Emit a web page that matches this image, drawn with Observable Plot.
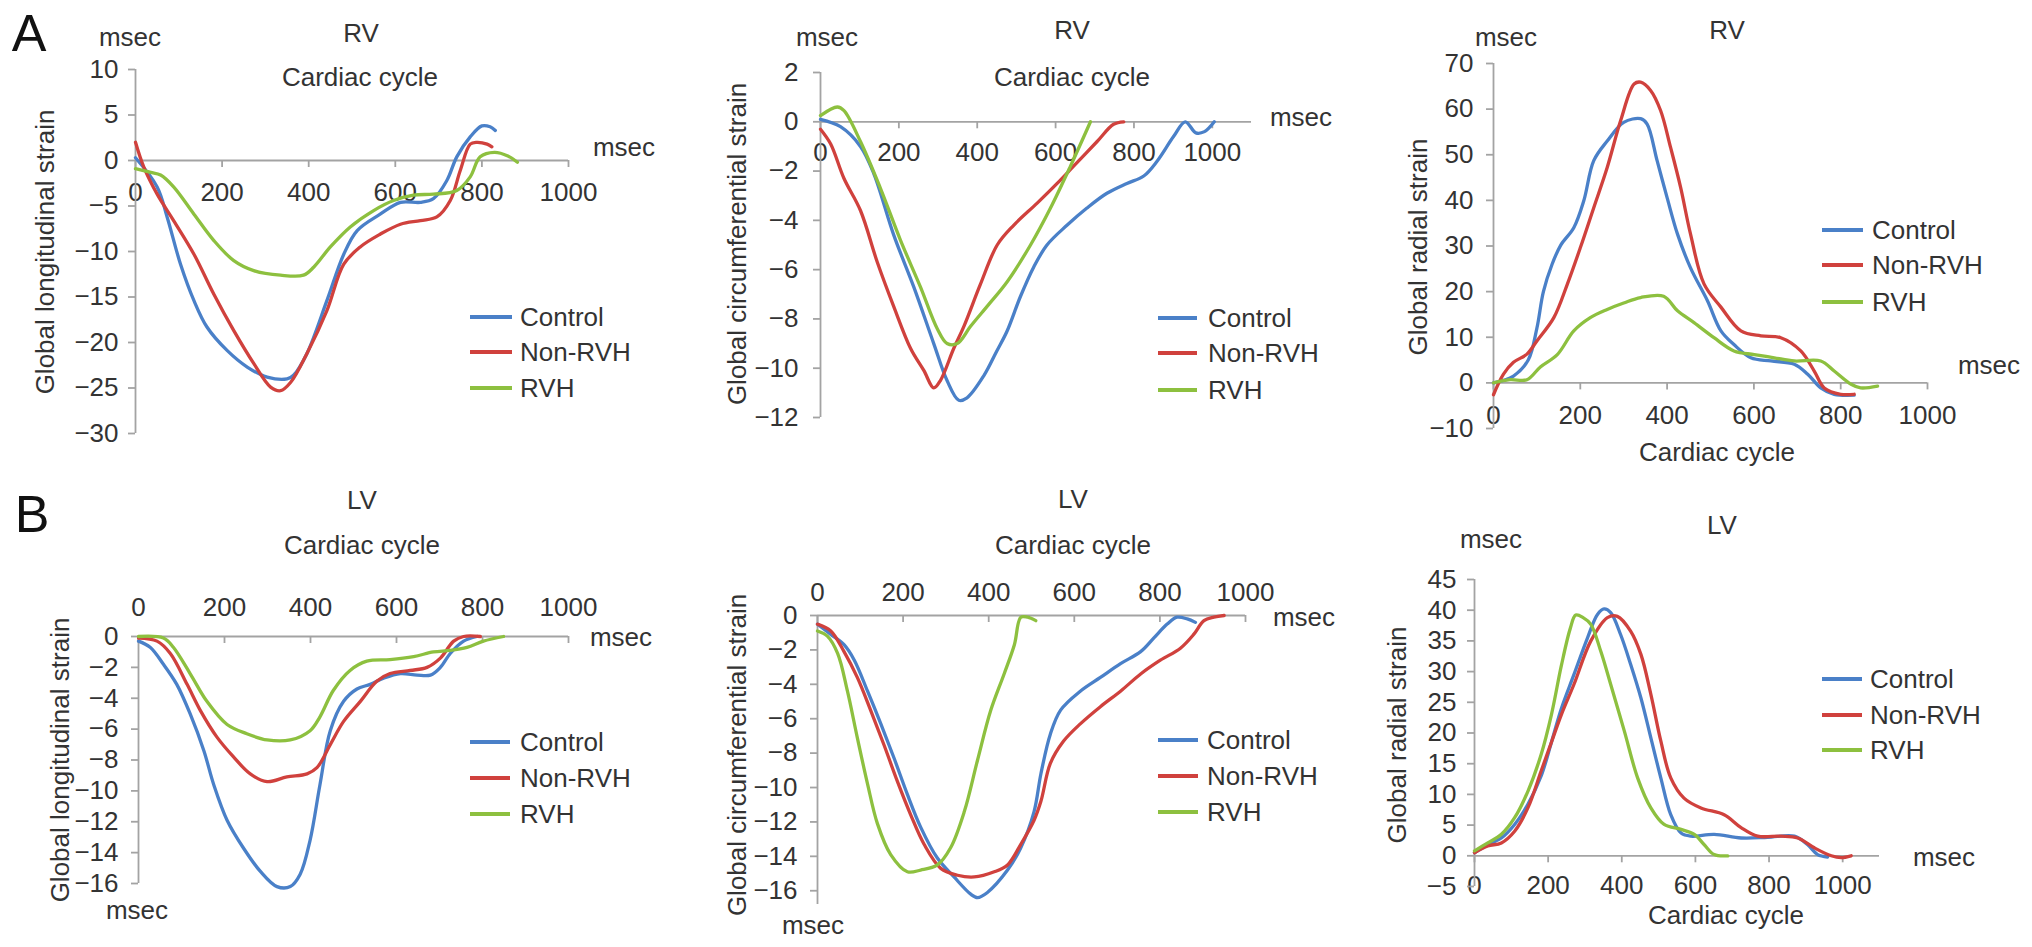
<!DOCTYPE html>
<html>
<head>
<meta charset="utf-8">
<script src="https://cdn.jsdelivr.net/npm/d3@7"></script>
<script src="https://cdn.jsdelivr.net/npm/@observablehq/plot@0.6"></script>
<style>
  body { margin: 0; background: #fff; font-family: "Liberation Sans", Arial, sans-serif; color: #333; }
  #fig { position: relative; width: 2032px; height: 947px; overflow: hidden; }
  #fig svg { position: absolute; overflow: visible; }
  .lbl { position: absolute; transform: translate(-50%, -50%); font-size: 26px; line-height: 1; white-space: nowrap; }
  .ytitle { transform: translate(-50%, -50%) rotate(-90deg); }
  .letter { font-size: 52px; color: #111; }
  .leg { position: absolute; font-size: 26px; line-height: 1; white-space: nowrap; }
</style>
</head>
<body>
<div id="fig"></div>
<script>
const seriesNames = ["Control", "Non-RVH", "RVH"];
const seriesColors = ["#4a80c8", "#d0413d", "#8dc03f"];

// A: RV, global longitudinal strain  [msec, strain]
const rvLongControl = [[0,0.3],[50,-2.9],[73,-6.2],[104,-11.4],[135,-15.4],[165,-18.3],[212,-20.9],[258,-22.7],[304,-23.8],[350,-24],[365,-23.6],[396,-21.2],[442,-15.4],[481,-10.3],[512,-7.7],[565,-5.9],[612,-4.6],[658,-4.6],[688,-4.2],[719,-2.2],[742,0.4],[773,2.6],[800,3.8],[819,3.7],[831,3.3]];
const rvLongNonRVH = [[0,2],[19,-0.7],[50,-3.7],[88,-6.6],[135,-10.3],[181,-14.7],[227,-18.7],[273,-22.3],[312,-24.9],[335,-25.3],[358,-24.4],[396,-21.2],[442,-16.5],[481,-11.4],[519,-9.5],[565,-8.1],[612,-7],[658,-6.6],[696,-6.2],[727,-4.4],[750,-1.1],[773,1.8],[788,2],[812,1.8],[823,1.5]];
const rvLongRVH = [[0,-0.9],[35,-1.3],[58,-1.6],[88,-2.9],[135,-5.9],[181,-8.8],[227,-11],[273,-12.1],[335,-12.6],[388,-12.6],[412,-11.7],[450,-9.5],[496,-7.3],[550,-5.5],[596,-4.4],[642,-3.8],[688,-3.7],[742,-3.3],[773,-1.8],[796,0.4],[829,0.9],[860,0.5],[882,-0.2]];

// A: RV, global circumferential strain
const rvCircControl = [[0,0.1],[51,-0.2],[102,-1],[136,-2.1],[187,-4.6],[238,-6.7],[289,-9],[323,-10.5],[353,-11.3],[374,-11.2],[417,-10.3],[450,-9.3],[476,-8.5],[510,-7.1],[544,-5.9],[578,-5],[629,-4.2],[680,-3.5],[731,-2.9],[782,-2.5],[825,-2.2],[859,-1.6],[901,-0.6],[931,0],[958,-0.45],[980,-0.4],[1005,0]];
const rvCircNonRVH = [[0,-0.3],[26,-0.9],[60,-2.3],[102,-3.6],[145,-5.7],[187,-7.5],[230,-9.2],[264,-10.1],[289,-10.8],[306,-10.5],[340,-9.2],[366,-8.3],[408,-6.6],[451,-5],[493,-4.2],[553,-3.3],[604,-2.5],[646,-1.8],[706,-0.8],[748,-0.1],[774,0]];
const rvCircRVH = [[0,0.25],[43,0.6],[60,0.45],[102,-0.8],[153,-2.7],[204,-4.8],[255,-6.7],[298,-8.4],[323,-9],[349,-9],[383,-8.3],[430,-7.4],[476,-6.5],[536,-5],[587,-3.5],[638,-1.8],[689,0]];

// A: RV, global radial strain
const rvRadControl = [[0,0],[46,1.5],[80,5],[100,12],[115,20],[135,26],[155,30.2],[185,34],[208,39.9],[231,48.7],[262,53],[300,57.1],[339,57.9],[354,56.7],[377,48.7],[400,40.6],[424,32.6],[454,25.2],[493,18],[524,11.4],[554,8.4],[593,5.5],[639,4.8],[693,4.1],[724,1.9],[754,-1.1],[785,-2.5],[831,-2.7]];
const rvRadNonRVH = [[0,-2.6],[23,1.9],[46,4.5],[77,6.3],[100,9.2],[139,14.3],[170,21.6],[200,29.6],[231,38.4],[262,47.2],[293,57.5],[324,65.5],[339,65.9],[362,64.1],[385,59.7],[408,51.6],[431,42.9],[454,32.6],[485,21.7],[524,16.6],[570,11.4],[616,10.3],[662,9.9],[708,7],[739,2.6],[762,-1.1],[800,-2.5],[831,-2.5]];
const rvRadRVH = [[0,0],[38,0.7],[77,0.7],[108,3.5],[147,6.2],[185,11.4],[223,14.3],[262,16.1],[300,17.5],[339,18.7],[392,19],[424,15.8],[462,13.2],[508,9.9],[554,7],[601,6.2],[647,5.5],[693,4.8],[754,4.8],[785,2.6],[824,-0.3],[846,-1.1],[885,-0.7]];

// B: LV, global longitudinal strain
const lvLongControl = [[0,-0.3],[27,-0.7],[58,-1.8],[89,-3.1],[120,-5],[152,-7.4],[175,-9.6],[206,-11.9],[244,-13.7],[283,-15.2],[322,-16.2],[353,-16.2],[376,-15.4],[399,-13.2],[422,-9.6],[446,-6.1],[477,-4.2],[508,-3.4],[539,-3.1],[570,-2.7],[609,-2.4],[648,-2.5],[679,-2.5],[702,-2],[725,-1.1],[756,-0.3],[787,0]];
const lvLongNonRVH = [[0,-0.1],[43,-0.3],[74,-1.1],[113,-3.1],[144,-4.8],[182,-6.5],[221,-7.8],[260,-8.9],[299,-9.4],[345,-9.1],[392,-8.9],[415,-8.5],[446,-7],[477,-5.5],[516,-4.2],[554,-2.9],[585,-2.4],[632,-2.2],[671,-2],[702,-1.4],[733,-0.3],[756,0],[795,0]];
const lvLongRVH = [[0,0],[58,-0.1],[81,-0.7],[120,-2.4],[159,-4.2],[206,-5.7],[252,-6.3],[299,-6.7],[353,-6.7],[399,-6.1],[422,-5.2],[453,-3.5],[492,-2.2],[531,-1.6],[585,-1.5],[640,-1.3],[686,-1],[725,-0.9],[764,-0.7],[802,-0.3],[849,0]];

// B: LV, global circumferential strain
const lvCircControl = [[0,-0.5],[31,-1.1],[62,-1.7],[86,-2.6],[117,-4.4],[148,-6.3],[179,-8.3],[210,-10.4],[241,-12.3],[280,-14.1],[319,-15.2],[358,-16.2],[374,-16.4],[397,-16.1],[444,-14.8],[475,-13.5],[506,-11.4],[522,-9.2],[544,-6.9],[568,-5.5],[614,-4.4],[661,-3.6],[708,-2.8],[755,-2.1],[786,-1.3],[817,-0.5],[840,-0.1],[864,-0.2],[883,-0.4]];
const lvCircNonRVH = [[0,-0.5],[31,-0.9],[62,-2.1],[93,-3.6],[124,-5.5],[155,-7.5],[186,-9.6],[218,-11.6],[249,-13.3],[288,-14.7],[327,-15.1],[366,-15.2],[413,-14.9],[444,-14.5],[475,-13.3],[506,-11.9],[522,-10.8],[544,-8.6],[575,-7.3],[614,-6.3],[661,-5.3],[708,-4.4],[755,-3.4],[801,-2.6],[848,-1.9],[879,-1.1],[903,-0.3],[926,-0.1],[950,0]];
const lvCircRVH = [[0,-0.9],[23,-1.2],[47,-2.2],[70,-4.4],[93,-7.1],[117,-9.8],[140,-12.1],[171,-13.9],[210,-14.9],[241,-14.8],[280,-14.5],[311,-13.5],[343,-11.4],[374,-8.4],[405,-5.5],[436,-3.4],[460,-1.7],[475,-0.1],[491,-0.1],[510,-0.3]];

// B: LV, global radial strain
const lvRadControl = [[0,0.5],[36,1.8],[73,2.9],[109,5.1],[145,8.4],[181,13],[209,18.5],[236,24],[270,29.5],[307,35.5],[334,39.3],[352,40.2],[370,39.6],[397,36],[424,31.2],[452,25.7],[479,19.2],[506,12.7],[533,6.7],[561,3.7],[588,3.2],[651,3.5],[724,2.9],[796,3],[869,3.2],[905,1.8],[932,0.2],[959,-0.2]];
const lvRadNonRVH = [[0,0.5],[36,1.6],[73,2.1],[109,4],[145,7.8],[181,13.8],[209,18.5],[236,23],[270,27.9],[316,35],[361,38.8],[388,39],[424,36.6],[452,32.8],[479,26.3],[506,18.7],[533,12.7],[569,9.4],[615,7.8],[678,6.7],[724,4.6],[769,3.2],[833,3.2],[878,2.9],[923,1.3],[969,0],[996,-0.3],[1023,0]];
const lvRadRVH = [[0,0.8],[36,2.1],[73,3.5],[109,6.2],[145,10.5],[181,16.5],[209,23],[236,31],[260,37],[275,39.2],[295,38.8],[316,37.7],[343,33.3],[370,27.9],[407,20.3],[443,12.7],[479,7.8],[515,5.1],[561,4.3],[597,3.5],[624,1.8],[651,0.2],[688,0]];

// tick values
const msecTicks = [0, 200, 400, 600, 800, 1000];
const longRvTicks = [10, 5, 0, -5, -10, -15, -20, -25, -30];
const circRvTicks = [2, 0, -2, -4, -6, -8, -10, -12];
const radRvTicks = [70, 60, 50, 40, 30, 20, 10, 0, -10];
const longLvTicks = [0, -2, -4, -6, -8, -10, -12, -14, -16];
const circLvTicks = [0, -2, -4, -6, -8, -10, -12, -14, -16];
const radLvTicks = [45, 40, 35, 30, 25, 20, 15, 10, 5, 0, -5];

const axisColor = "#a3a3a3";
const textColor = "#333";
const fig = document.getElementById("fig");

// box: svg placement; xpx / ypx: pixel positions of the domain ends
const panels = [
  {box: [0, 0, 680, 470], xdom: [0, 1000], xpx: [135, 568], ydom: [-30, 10], ypx: [69, 433],
   yticks: longRvTicks, pad: 10, labelDy: 32, series: [rvLongControl, rvLongNonRVH, rvLongRVH]},
  {box: [680, 0, 680, 470], xdom: [0, 1100], xpx: [820, 1251], ydom: [-12, 2], ypx: [72, 417],
   yticks: circRvTicks, pad: 15, labelDy: 31, series: [rvCircControl, rvCircNonRVH, rvCircRVH]},
  {box: [1360, 0, 672, 470], xdom: [0, 1000], xpx: [1493, 1927], ydom: [-10, 70], ypx: [63, 428],
   yticks: radRvTicks, pad: 13, labelDy: 33, series: [rvRadControl, rvRadNonRVH, rvRadRVH]},
  {box: [0, 470, 680, 477], xdom: [0, 1000], xpx: [138, 568], ydom: [-16, 0], ypx: [636, 883],
   yticks: longLvTicks, pad: 13, labelDy: -29, series: [lvLongControl, lvLongNonRVH, lvLongRVH]},
  {box: [680, 470, 680, 477], xdom: [0, 1000], xpx: [817, 1245], ydom: [-16.8, 0], ypx: [615, 904],
   yticks: circLvTicks, pad: 13, labelDy: -23, series: [lvCircControl, lvCircNonRVH, lvCircRVH]},
  {box: [1360, 470, 672, 477], xdom: [0, 1100], xpx: [1474, 1879], ydom: [-5, 45], ypx: [579, 886],
   yticks: radLvTicks, pad: 11, labelDy: 30, series: [lvRadControl, lvRadNonRVH, lvRadRVH]}
];

const fmt = d3.format("d");

function drawPanel(p) {
  const [L, T, W, H] = p.box;
  const tickX = 7 * (p.xdom[1] - p.xdom[0]) / (p.xpx[1] - p.xpx[0]);
  const tickY = 7 * (p.ydom[1] - p.ydom[0]) / (p.ypx[1] - p.ypx[0]);
  const rows = [];
  p.series.forEach((s, i) => s.forEach(([t, v]) => rows.push({t, v, group: seriesNames[i]})));

  const chart = Plot.plot({
    width: W,
    height: H,
    marginLeft: p.xpx[0] - L,
    marginRight: L + W - p.xpx[1],
    marginTop: p.ypx[0] - T,
    marginBottom: T + H - p.ypx[1],
    x: {domain: p.xdom, axis: null},
    y: {domain: p.ydom, axis: null},
    color: {domain: seriesNames, range: seriesColors},
    style: {fontFamily: "Liberation Sans, Arial, sans-serif", background: "transparent", overflow: "visible"},
    marks: [
      Plot.text(p.yticks, {x: 0, y: d => d, text: d => fmt(d), dx: -(7 + p.pad), textAnchor: "end", fontSize: 26, fill: textColor}),
      Plot.text(msecTicks, {x: d => d, y: 0, text: d => String(d), dy: p.labelDy, fontSize: 26, fill: textColor}),
      Plot.ruleX([0], {stroke: axisColor, strokeWidth: 1.8}),
      Plot.ruleY([0], {stroke: axisColor, strokeWidth: 1.8}),
      Plot.ruleY(p.yticks, {y: d => d, x1: 0, x2: -tickX, stroke: axisColor, strokeWidth: 1.8}),
      Plot.ruleX(msecTicks, {x: d => d, y1: 0, y2: -tickY, stroke: axisColor, strokeWidth: 1.8}),
      Plot.line(rows, {x: "t", y: "v", z: "group", stroke: "group", strokeWidth: 3.3, curve: "catmull-rom"})
    ]
  });
  chart.style.left = L + "px";
  chart.style.top = T + "px";
  fig.appendChild(chart);
}

panels.forEach(drawPanel);

// text labels (centre positions)
const labels = [
  ["A", 29, 33, "letter"], ["B", 32, 514, "letter"],
  ["msec", 130, 37], ["RV", 361, 33], ["Cardiac cycle", 360, 77], ["msec", 624, 147], ["Global longitudinal strain", 45, 252, "ytitle"],
  ["msec", 827, 37], ["RV", 1072, 30], ["Cardiac cycle", 1072, 77], ["msec", 1301, 117], ["Global circumferential strain", 737, 244, "ytitle"],
  ["msec", 1506, 37], ["RV", 1727, 30], ["Cardiac cycle", 1717, 452], ["msec", 1989, 365], ["Global radial strain", 1418, 247, "ytitle"],
  ["LV", 362, 500], ["Cardiac cycle", 362, 545], ["msec", 137, 910], ["msec", 621, 637], ["Global longitudinal strain", 60, 760, "ytitle"],
  ["LV", 1073, 499], ["Cardiac cycle", 1073, 545], ["msec", 813, 925], ["msec", 1304, 617], ["Global circumferential strain", 737, 755, "ytitle"],
  ["msec", 1491, 539], ["LV", 1722, 525], ["Cardiac cycle", 1726, 915], ["msec", 1944, 857], ["Global radial strain", 1397, 735, "ytitle"]
];
labels.forEach(([t, x, y, cls]) => {
  const d = document.createElement("div");
  d.className = "lbl" + (cls ? " " + cls : "");
  d.textContent = t;
  d.style.left = x + "px";
  d.style.top = y + "px";
  fig.appendChild(d);
});

// legends: line start, line end, text left, row centres
const legends = [
  [470, 512, 520, [317, 352, 388]],
  [1158, 1197, 1208, [318, 353, 390]],
  [1822, 1863, 1872, [230, 265, 302]],
  [470, 510, 520, [742, 778, 814]],
  [1158, 1198, 1207, [740, 776, 812]],
  [1822, 1862, 1870, [679, 715, 750]]
];
legends.forEach(([x0, x1, tx, ys]) => {
  ys.forEach((y, i) => {
    const line = document.createElement("div");
    line.style.cssText = `position:absolute;left:${x0}px;top:${y - 2}px;width:${x1 - x0}px;height:4px;background:${seriesColors[i]}`;
    fig.appendChild(line);
    const t = document.createElement("div");
    t.className = "leg";
    t.textContent = seriesNames[i];
    t.style.left = tx + "px";
    t.style.top = (y - 13) + "px";
    fig.appendChild(t);
  });
});
</script>
</body>
</html>
